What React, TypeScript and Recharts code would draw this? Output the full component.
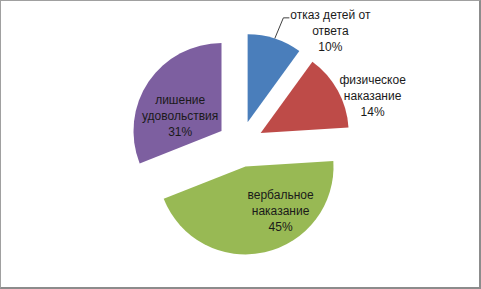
import React from "react";
import { PieChart, Pie, Cell, Sector } from "recharts";

const categories = [
  "отказ детей от ответа",
  "физическое наказание",
  "вербальное наказание",
  "лишение удовольствия",
];
const values = [10, 14, 45, 31];
const labelLines = [
  ["отказ детей от", "ответа", "10%"],
  ["физическое", "наказание", "14%"],
  ["вербальное", "наказание", "45%"],
  ["лишение", "удовольствия", "31%"],
];
const colors = ["#4A7EBB", "#BE4B48", "#98B954", "#7D5FA0"];

const data = categories.map((name, i) => ({ name, value: values[i] }));

const W = 481;
const H = 289;
const EXPLODE = 23;
const RAD = Math.PI / 180;
const FONT = "'Liberation Sans', Arial, sans-serif";

// label placement: [radius factor from exploded apex, clockwise angle from top]
const LABEL_PLACE: [number, number][] = [
  [1.4, 42.2],
  [1.34, 71.7],
  [0.64, 141.5],
  [0.5, 290.1],
];

const explodedCenter = (cx: number, cy: number, midAngle: number) => ({
  x: cx + EXPLODE * Math.cos(-midAngle * RAD),
  y: cy + EXPLODE * Math.sin(-midAngle * RAD),
});

const renderSector = (props: any) => {
  const { cx, cy, midAngle, innerRadius, outerRadius, startAngle, endAngle, fill } = props;
  const c = explodedCenter(cx, cy, midAngle);
  return (
    <Sector
      cx={c.x}
      cy={c.y}
      innerRadius={innerRadius}
      outerRadius={outerRadius}
      startAngle={startAngle}
      endAngle={endAngle}
      fill={fill}
      stroke="none"
    />
  );
};

const renderLabel = (props: any) => {
  const { cx, cy, midAngle, outerRadius, index } = props;
  const c = explodedCenter(cx, cy, midAngle);
  const [f, cw] = LABEL_PLACE[index];
  const a = (90 - cw) * RAD;
  const lx = c.x + f * outerRadius * Math.cos(-a);
  const ly = c.y + f * outerRadius * Math.sin(-a);
  const lines = labelLines[index];
  let leader = null;
  if (index === 0) {
    const sx = c.x + outerRadius * Math.cos(-midAngle * RAD);
    const sy = c.y + outerRadius * Math.sin(-midAngle * RAD);
    const ex = lx - 41;
    const ey = ly - 13;
    leader = (
      <polyline
        points={`${sx},${sy} ${ex - 6},${ey} ${ex},${ey}`}
        fill="none"
        stroke="#404040"
        strokeWidth={1}
      />
    );
  }
  return (
    <g>
      {leader}
      {lines.map((t, k) => (
        <text
          key={k}
          x={lx}
          y={ly + 4 + (k - 1) * 16}
          textAnchor="middle"
          fontFamily={FONT}
          fontSize={12}
          fill="#1a1a1a"
        >
          {t}
        </text>
      ))}
    </g>
  );
};

export default function App() {
  return (
    <div style={{ position: "fixed", left: 0, top: 0, width: W, height: H, background: "#fff" }}>
      <PieChart width={W} height={H} margin={{ top: 0, right: 0, bottom: 0, left: 0 }}>
        <Pie
          data={data}
          dataKey="value"
          nameKey="name"
          cx={240.5}
          cy={144}
          outerRadius={88}
          startAngle={90}
          endAngle={-270}
          isAnimationActive={false}
          shape={renderSector}
          activeShape={renderSector}
          inactiveShape={renderSector}
          label={renderLabel}
          labelLine={false}
          stroke="none"
        >
          {data.map((d, i) => (
            <Cell key={d.name} fill={colors[i]} />
          ))}
        </Pie>
      </PieChart>
      <div
        style={{
          position: "absolute",
          left: 0,
          top: 0,
          width: W,
          height: H,
          boxSizing: "border-box",
          borderLeft: "1px solid #a0a0a0",
          borderTop: "1px solid #a0a0a0",
          borderRight: "2px solid #8c8c8c",
          borderBottom: "2px solid #8c8c8c",
          pointerEvents: "none",
        }}
      />
    </div>
  );
}
